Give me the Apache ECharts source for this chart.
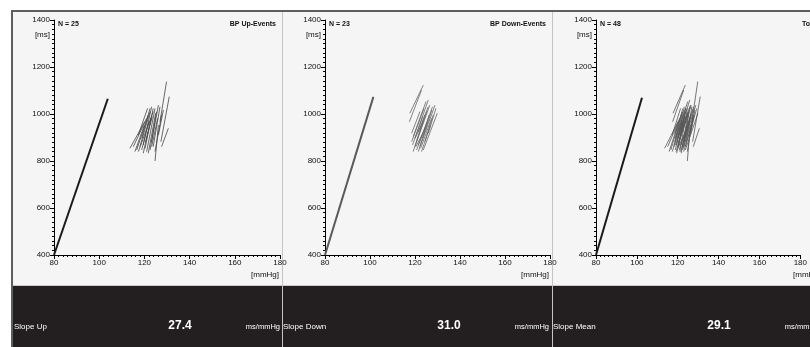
<!DOCTYPE html>
<html>
<head>
<meta charset="utf-8">
<script src="https://cdn.jsdelivr.net/npm/echarts@6/dist/echarts.min.js"></script>
<style>
  html, body { margin: 0; padding: 0; background: #fff; }
  #chart { width: 810px; height: 347px; }
</style>
</head>
<body>
<div id="chart"></div>
<script>
// panel texts
var panelTitles = ['BP Up-Events', 'BP Down-Events', 'Total'];
var panelCounts = ['N = 25', 'N = 23', 'N = 48'];
var slopeNames = ['Slope Up', 'Slope Down', 'Slope Mean'];
var slopeValues = ['27.4', '31.0', '29.1'];

// regression line ends [mmHg, ms]
var regUp = [[80, 400], [103.8, 1065]];
var regDown = [[80, 400], [101.5, 1073]];
var regMean = [[80, 400], [102.5, 1069]];

// sequences: [sbp1, rr1, sbp2, rr2]
var upSegments = [
    [129.8, 1138, 126.9, 967], [126.2, 953, 124.7, 800], [131.0, 1074, 127.3, 882],
    [130.6, 939, 127.6, 861], [123.2, 1031, 119.5, 868], [123.9, 1024, 120.3, 854],
    [124.7, 1024, 121.0, 840], [122.5, 1010, 118.0, 861], [121.7, 996, 116.6, 847],
    [121.0, 982, 115.1, 861], [120.2, 968, 113.6, 854], [125.4, 1010, 122.5, 847],
    [126.2, 1038, 123.2, 882], [126.9, 1031, 123.9, 861], [127.6, 996, 124.7, 840],
    [122.5, 1024, 118.8, 897], [123.9, 1010, 117.3, 840], [121.4, 1024, 117.3, 911],
    [125.0, 1003, 121.7, 833], [122.9, 982, 119.5, 833], [125.9, 982, 123.2, 861],
    [128.4, 1017, 126.2, 911], [123.5, 989, 120.5, 882], [122.0, 968, 118.8, 847],
    [120.0, 953, 115.8, 840]
];
var downSegments = [
    [123.7, 1123, 117.7, 1003], [122.9, 1102, 117.5, 967], [124.9, 1053, 119.2, 904],
    [125.9, 1060, 120.0, 897], [126.6, 1038, 120.7, 882], [127.8, 1031, 121.5, 868],
    [128.9, 1038, 122.2, 861], [129.9, 1003, 123.7, 847], [124.0, 1024, 118.5, 882],
    [124.4, 996, 119.2, 840], [125.2, 1010, 120.0, 861], [126.3, 996, 121.5, 840],
    [127.4, 982, 122.5, 854], [122.2, 1010, 118.5, 918], [123.4, 989, 118.9, 868],
    [125.5, 968, 120.7, 847], [128.1, 996, 124.4, 882], [129.3, 1024, 125.9, 918],
    [126.9, 953, 122.9, 840], [124.9, 946, 120.4, 861], [123.7, 968, 120.0, 897],
    [125.9, 1031, 121.5, 925], [127.5, 1017, 123.4, 897]
];

var FONT = '"Liberation Sans", Arial, sans-serif';
var panelLeft = [13, 282, 552];
var gridLeft = [54, 325, 596];
var gridWidth = [226, 225, 226];

function plain(v) { return String(v); }

function xAx(i) {
    return {
        type: 'value', gridIndex: i, min: 80, max: 180, interval: 20,
        axisLine: { lineStyle: { color: '#000', width: 1 } },
        axisTick: { length: 4, lineStyle: { color: '#000' } },
        minorTick: { show: true, splitNumber: 10, length: 2, lineStyle: { color: '#000' } },
        splitLine: { show: false },
        axisLabel: { fontSize: 8, color: '#111', margin: 4, fontFamily: FONT, formatter: plain }
    };
}
function yAx(i) {
    return {
        type: 'value', gridIndex: i, min: 400, max: 1400, interval: 200,
        axisLine: { lineStyle: { color: '#000', width: 1 } },
        axisTick: { length: 4, lineStyle: { color: '#000' } },
        minorTick: { show: true, splitNumber: 10, length: 2, lineStyle: { color: '#000' } },
        splitLine: { show: false },
        axisLabel: { fontSize: 8, color: '#111', margin: 4, fontFamily: FONT, formatter: plain }
    };
}
function segData(list) {
    return list.map(function (s) { return { coords: [[s[0], s[1]], [s[2], s[3]]] }; });
}

var graphics = [
    { type: 'rect', z: -10, shape: { x: 13, y: 12, width: 797, height: 274 }, style: { fill: '#f5f5f5' } },
    { type: 'rect', z: -10, shape: { x: 13, y: 286, width: 797, height: 61 }, style: { fill: '#231f20' } },
    { type: 'rect', z: -9, shape: { x: 11, y: 10, width: 799, height: 2 }, style: { fill: '#5e5e5e' } },
    { type: 'rect', z: -9, shape: { x: 11, y: 10, width: 2, height: 337 }, style: { fill: '#5e5e5e' } },
    { type: 'rect', z: -9, shape: { x: 13, y: 285, width: 797, height: 1 }, style: { fill: '#c8c8c8' } }
];
[282, 552].forEach(function (x) {
    graphics.push({ type: 'rect', z: -9, shape: { x: x, y: 12, width: 1, height: 335 }, style: { fill: '#c4c4c4' } });
});
for (var i = 0; i < 3; i++) {
    var pl = panelLeft[i];
    graphics.push(
        { type: 'text', style: { text: panelCounts[i], x: gridLeft[i] + 4, y: 24, fill: '#111', font: 'bold 7px ' + FONT, textVerticalAlign: 'middle' } },
        { type: 'text', style: { text: panelTitles[i], x: i == 2 ? 802 : gridLeft[i] + gridWidth[i] - 4, y: 24, fill: '#111', font: 'bold 7px ' + FONT, textAlign: i == 2 ? 'left' : 'right', textVerticalAlign: 'middle' } },
        { type: 'text', style: { text: '[ms]', x: gridLeft[i] - 4, y: 35, fill: '#111', font: '8px ' + FONT, textAlign: 'right', textVerticalAlign: 'middle' } },
        { type: 'text', style: { text: '[mmHg]', x: gridLeft[i] + gridWidth[i] - 1, y: 275, fill: '#111', font: '8px ' + FONT, textAlign: 'right', textVerticalAlign: 'middle' } },
        { type: 'text', style: { text: slopeNames[i], x: pl + 1, y: 327, fill: '#fff', font: '8px ' + FONT, textVerticalAlign: 'middle' } },
        { type: 'text', style: { text: slopeValues[i], x: pl + 167, y: 326, fill: '#fff', font: 'bold 12px ' + FONT, textAlign: 'center', textVerticalAlign: 'middle' } },
        { type: 'text', style: { text: 'ms/mmHg', x: pl + 267, y: 327, fill: '#fff', font: '7.5px ' + FONT, textAlign: 'right', textVerticalAlign: 'middle' } }
    );
}

var myChart = echarts.init(document.getElementById('chart'));
myChart.setOption({
    animation: false,
    backgroundColor: '#fff',
    grid: [
        { left: 54, top: 20, width: 226, height: 235 },
        { left: 325, top: 20, width: 225, height: 235 },
        { left: 596, top: 20, width: 226, height: 235 }
    ],
    xAxis: [xAx(0), xAx(1), xAx(2)],
    yAxis: [yAx(0), yAx(1), yAx(2)],
    graphic: graphics,
    series: [
        { type: 'lines', coordinateSystem: 'cartesian2d', xAxisIndex: 0, yAxisIndex: 0, data: segData(upSegments), lineStyle: { color: '#444', width: 0.8, opacity: 1 } },
        { type: 'lines', coordinateSystem: 'cartesian2d', xAxisIndex: 1, yAxisIndex: 1, data: segData(downSegments), lineStyle: { color: '#666', width: 0.8, opacity: 1 } },
        { type: 'lines', coordinateSystem: 'cartesian2d', xAxisIndex: 2, yAxisIndex: 2, data: segData(upSegments.concat(downSegments)), lineStyle: { color: '#555', width: 0.8, opacity: 1 } },
        { type: 'line', xAxisIndex: 0, yAxisIndex: 0, data: regUp, symbol: 'none', lineStyle: { color: '#1a1a1a', width: 2 } },
        { type: 'line', xAxisIndex: 1, yAxisIndex: 1, data: regDown, symbol: 'none', lineStyle: { color: '#5a5a5a', width: 2 } },
        { type: 'line', xAxisIndex: 2, yAxisIndex: 2, data: regMean, symbol: 'none', lineStyle: { color: '#1a1a1a', width: 2 } }
    ]
});
</script>
</body>
</html>
